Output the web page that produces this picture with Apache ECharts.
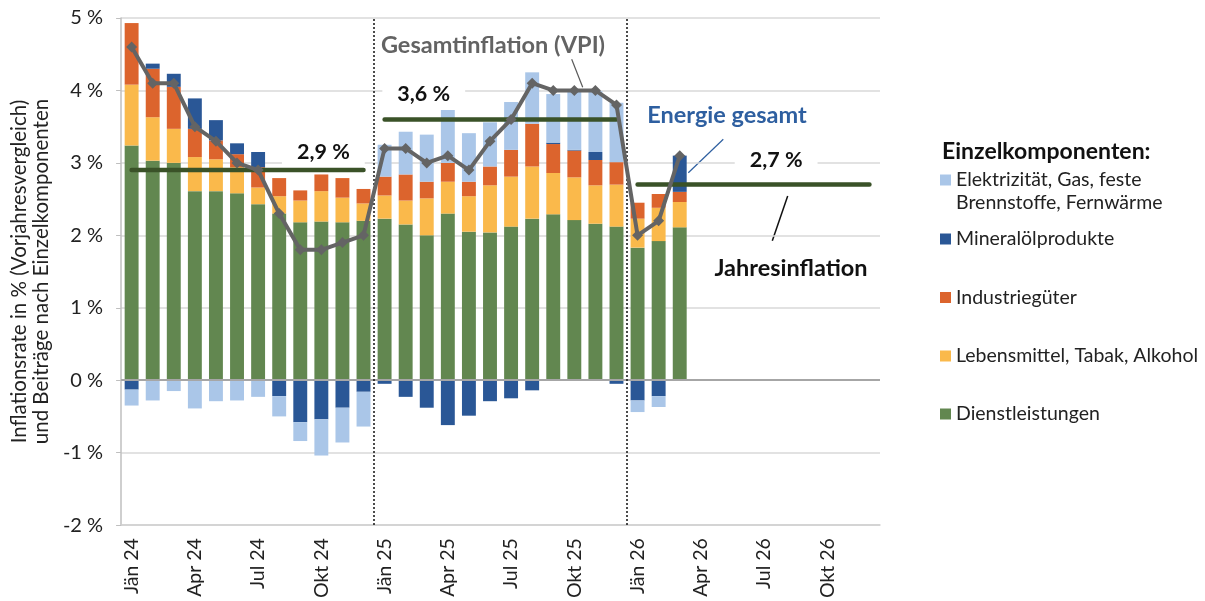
<!DOCTYPE html>
<html><head><meta charset="utf-8">
<script src="https://cdn.jsdelivr.net/npm/echarts@6/dist/echarts.min.js"></script>
<style>html,body{margin:0;padding:0;background:#fff}#chart{width:1205px;height:601px}</style>
</head><body><div id="chart"></div>
<script>
// ---- data ----
const monthNames = ['Jän','Feb','Mär','Apr','Mai','Jun','Jul','Aug','Sep','Okt','Nov','Dez'];
const years = ['24','25','26'];
const categories = [];
years.forEach(y => monthNames.forEach(m => categories.push(m + ' ' + y)));

const services = [3.24,3.03,3.00,2.61,2.61,2.58,2.43,2.30,2.18,2.19,2.18,2.20,
                  2.23,2.15,2.00,2.30,2.05,2.04,2.12,2.23,2.29,2.21,2.16,2.12,
                  1.83,1.92,2.11];
const food =     [0.84,0.60,0.47,0.47,0.44,0.36,0.23,0.24,0.30,0.42,0.34,0.24,
                  0.32,0.33,0.51,0.44,0.49,0.65,0.69,0.72,0.57,0.59,0.53,0.58,
                  0.40,0.46,0.35];
const industry = [0.85,0.67,0.58,0.39,0.26,0.18,0.28,0.25,0.14,0.23,0.27,0.20,
                  0.26,0.36,0.23,0.26,0.20,0.26,0.37,0.59,0.40,0.37,0.35,0.31,
                  0.22,0.19,0.14];
const mineralOil = [-0.13,0.07,0.18,0.42,0.28,0.15,0.21,-0.22,-0.58,-0.54,-0.38,-0.16,
                  -0.05,-0.23,-0.38,-0.62,-0.49,-0.29,-0.25,-0.14,0.02,0.01,0.11,-0.05,
                  -0.28,-0.22,0.50];
const energy =   [-0.22,-0.28,-0.15,-0.39,-0.29,-0.28,-0.23,-0.28,-0.26,-0.50,-0.48,-0.48,
                  0.44,0.59,0.65,0.73,0.67,0.61,0.66,0.71,0.67,0.81,0.84,0.82,
                  -0.16,-0.15,0];
const vpi =      [4.6,4.1,4.1,3.5,3.3,3.0,2.9,2.3,1.8,1.8,1.9,2.0,
                  3.2,3.2,3.0,3.1,2.9,3.3,3.6,4.1,4.0,4.0,4.0,3.8,
                  2.0,2.2,3.1];
const annualAvg = [2.9, 3.6, 2.7];
const annualLabelIdx = [9, 14, 31];

const nameEnergy = 'Elektrizität, Gas, feste Brennstoffe, Fernwärme';
const nameMineral = 'Mineralölprodukte';
const nameIndustry = 'Industriegüter';
const nameFood = 'Lebensmittel, Tabak, Alkohol';
const nameServices = 'Dienstleistungen';

// ---- styles ----
const FONT = 'Lato';
const C = {
  services: '#628750', food: '#FAB94B', industry: '#DC642D',
  mineral: '#2A5796', energy: '#AAC6E8', vpi: '#646464', annual: '#3A5228'
};

const chart = echarts.init(document.getElementById('chart'), null, {renderer: 'canvas'});

function barSeries(name, data, color, extra) {
  return Object.assign({
    name, type: 'bar', stack: 'comp', data, barCategoryGap: '34%',
    itemStyle: {color}, emphasis: {disabled: true}, z: 2
  }, extra || {});
}

const fmtPct = v => v.toFixed(1).replace('.', ',') + ' %';

const annualSeries = annualAvg.map((v, yi) => {
  const d = categories.map((c, i) => (i >= yi * 12 && i < yi * 12 + 12) ? v : null);
  return {
    name: 'Jahresinflation ' + years[yi], type: 'line', data: d, symbol: 'none', z: 4,
    lineStyle: {color: C.annual, width: 4.5, cap: 'round'}, silent: true,
    markPoint: {
      symbol: 'rect', symbolSize: 0, silent: true,
      data: [{coord: [annualLabelIdx[yi], v], value: v}],
      label: {
        show: true, position: 'inside', formatter: p => fmtPct(p.value),
        offset: yi === 0 ? [2, -18] : (yi === 1 ? [-3, -25] : [-9, -25]),
        fontFamily: FONT, fontSize: 21.5, fontWeight: 'bold', color: '#111',
        backgroundColor: '#fff', padding: [2, 15]
      }
    }
  };
});

const legendNames = [nameEnergy, nameMineral, nameIndustry, nameFood, nameServices];
const legendCenters = [180, 239, 297.5, 356, 414];
const LH = 23;
const legends = legendNames.map((n, i) => ({
  data: [n], left: 935, top: (i === 0 ? legendCenters[i] - 1.5 * LH : legendCenters[i] - LH / 2) - 5,
  orient: 'vertical', icon: 'rect', itemWidth: 11, itemHeight: 11, selectedMode: false,
  textStyle: {fontFamily: FONT, fontSize: 19.5, color: '#222', lineHeight: LH},
  formatter: i === 0 ? () => '\nElektrizität, Gas, feste\nBrennstoffe, Fernwärme' : undefined
}));

const option = {
  animation: false,
  backgroundColor: '#fff',
  title: {
    text: 'Einzelkomponenten:', left: 937, top: 135,
    textStyle: {fontFamily: FONT, fontSize: 23, fontWeight: 'bold', color: '#111'}
  },
  legend: legends,
  grid: {left: 118, right: 325, top: 18, bottom: 73, containLabel: false},
  xAxis: [{
    type: 'category', data: categories, boundaryGap: true,
    axisLine: {show: true, onZero: false, lineStyle: {color: '#D0D0D0', width: 1.5}},
    axisTick: {show: false},
    axisLabel: {interval: 2, rotate: 90, margin: 13, fontFamily: FONT, fontSize: 19.5, color: '#222'},
    splitLine: {show: false}
  }, {
    type: 'value', min: 0, max: 36, show: false
  }],
  yAxis: {
    type: 'value', min: -2, max: 5, interval: 1,
    name: 'Inflationsrate in % (Vorjahresvergleich)\nund Beiträge nach Einzelkomponenten',
    nameLocation: 'middle', nameGap: 64,
    nameTextStyle: {fontFamily: FONT, fontSize: 20.5, color: '#222', lineHeight: 22},
    axisLine: {show: true, lineStyle: {color: '#BFBFBF', width: 1.5}},
    axisTick: {show: true, length: 5, lineStyle: {color: '#BFBFBF'}},
    axisLabel: {formatter: v => v + ' %', margin: 18, fontFamily: FONT, fontSize: 20, color: '#222'},
    splitLine: {lineStyle: {color: '#D9D9D9', width: 1.5}}
  },
  series: [
    barSeries(nameServices, services, C.services, {
      markLine: {
        silent: true, symbol: 'none', label: {show: false},
        lineStyle: {color: '#A6A6A6', width: 2, type: 'solid'},
        data: [{yAxis: 0}]
      }
    }),
    barSeries(nameFood, food, C.food),
    barSeries(nameIndustry, industry, C.industry),
    barSeries(nameMineral, mineralOil, C.mineral),
    barSeries(nameEnergy, energy, C.energy),
    ...annualSeries,
    {
      name: 'Gesamtinflation (VPI)', type: 'line', data: vpi, z: 5,
      symbol: 'diamond', symbolSize: 11,
      lineStyle: {color: C.vpi, width: 4}, itemStyle: {color: C.vpi},
      emphasis: {disabled: true}
    },
    {
      name: 'sep', type: 'line', xAxisIndex: 1, data: [], silent: true,
      markLine: {
        silent: true, symbol: 'none', label: {show: false},
        lineStyle: {color: '#111', width: 1.5, type: [2, 2]},
        data: [{xAxis: 12}, {xAxis: 24}]
      }
    }
  ],
  graphic: [
    {type: 'text', style: {text: 'Gesamtinflation (VPI)', x: 493, y: 45, textAlign: 'center', textVerticalAlign: 'middle',
      font: 'bold 23.5px Lato', fill: '#636363'}},
    {type: 'line', shape: {x1: 571.7, y1: 59.3, x2: 582.7, y2: 87.3}, style: {stroke: '#595959', lineWidth: 1.2}},
    {type: 'text', style: {text: 'Energie gesamt', x: 727, y: 115, textAlign: 'center', textVerticalAlign: 'middle',
      font: 'bold 23.5px Lato', fill: '#2E5FA0'}},
    {type: 'line', shape: {x1: 723.3, y1: 139.3, x2: 688.3, y2: 172.7}, style: {stroke: '#2E5FA0', lineWidth: 1.2}},
    {type: 'text', style: {text: 'Jahresinflation', x: 791, y: 268, textAlign: 'center', textVerticalAlign: 'middle',
      font: 'bold 23.5px Lato', fill: '#111'}},
    {type: 'line', shape: {x1: 787.7, y1: 196, x2: 772.3, y2: 240.7}, style: {stroke: '#111', lineWidth: 1.5}}
  ]
};
chart.setOption(option);
</script>
</body></html>
